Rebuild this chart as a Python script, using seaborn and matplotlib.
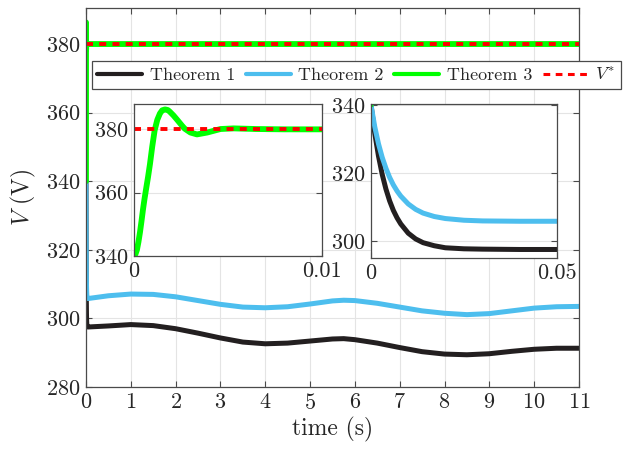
import numpy as np
import pandas as pd
import matplotlib
matplotlib.use("Agg")
import matplotlib.pyplot as plt
import seaborn as sns

# ---- data ----
# fast transient (seconds), used in the right inset and at the start of main plot
t_fast = [0, 0.001, 0.002, 0.003, 0.004, 0.005, 0.006, 0.007, 0.008, 0.010,
          0.012, 0.014, 0.017, 0.020, 0.025, 0.030, 0.040, 0.050]
v1_fast = [340, 331.7, 325.0, 319.6, 315.3, 311.8, 309.0, 306.8, 305.0, 302.3,
           300.6, 299.5, 298.6, 298.0, 297.7, 297.6, 297.5, 297.5]
v2_fast = [340, 333.6, 328.6, 324.6, 321.4, 318.7, 316.5, 314.7, 313.2, 310.9,
           309.3, 308.2, 307.2, 306.6, 306.1, 305.9, 305.8, 305.8]
# slow part (seconds)
t_slow = [0.5, 1, 1.5, 2, 2.5, 3, 3.5, 4, 4.5, 5, 5.5, 5.75, 6, 6.5, 7, 7.5,
          8, 8.5, 9, 9.5, 10, 10.5, 11]
v1_slow = [297.8, 298.2, 297.9, 297.0, 295.7, 294.3, 293.1, 292.6, 292.8, 293.4,
           294.0, 294.1, 293.8, 292.8, 291.5, 290.3, 289.6, 289.4, 289.7, 290.4,
           291.0, 291.3, 291.3]
v2_slow = [306.6, 307.1, 307.0, 306.3, 305.2, 304.1, 303.3, 303.1, 303.4, 304.2,
           305.1, 305.3, 305.2, 304.4, 303.3, 302.2, 301.5, 301.1, 301.4, 302.2,
           303.0, 303.4, 303.5]
# Theorem 3 transient (seconds)
t3_fast = [0, 0.00008, 0.00016, 0.00024, 0.00032, 0.0004, 0.00048, 0.00056,
           0.00064, 0.00075, 0.00085, 0.00097, 0.0011, 0.00124, 0.00138, 0.0015,
           0.00165, 0.0018, 0.0019, 0.0021, 0.0023, 0.00255, 0.0027, 0.0030,
           0.00335, 0.0039, 0.0046, 0.0053, 0.0065, 0.008, 0.010]
v3_fast = [340, 340.6, 342, 344.5, 347.5, 351, 354.7, 358, 361, 365, 369,
           374.5, 379.7, 383, 385, 386, 386.3, 386.1, 385.6, 384.4, 383,
           381.2, 380.2, 379, 378.4, 379, 380.1, 380.3, 380.1, 380, 380]
t3_slow = [0.05, 11]
v3_slow = [380, 380]
t_ref = [0, 11]
v_ref = [380, 380]

labels = ["Theorem 1", "Theorem 2", "Theorem 3", "$V^{*}$"]
xticks_main = list(range(0, 12))
yticks_main = [280, 300, 320, 340, 360, 380]

# ---- style ----
sns.set_theme(style="ticks")
plt.rcParams["font.family"] = ["cmr10", "DejaVu Sans"]
plt.rcParams["mathtext.fontset"] = "cm"
plt.rcParams["axes.unicode_minus"] = False
plt.rcParams["axes.formatter.use_mathtext"] = True

c1, c2, c3, cr = "#231f20", "#4dbeee", "#00ff00", "#ff0000"
lw = 3.6
dash = (1.8, 1.6)

df1 = pd.DataFrame({"t": t_fast + t_slow, "v": v1_fast + v1_slow})
df2 = pd.DataFrame({"t": t_fast + t_slow, "v": v2_fast + v2_slow})
df3 = pd.DataFrame({"t": t3_fast + t3_slow, "v": v3_fast + v3_slow})
dfr = pd.DataFrame({"t": t_ref, "v": v_ref})

fig = plt.figure(figsize=(6.24, 4.53), dpi=100)

def style_ax(ax, fs=16):
    ax.grid(True, color="#e4e4e4", lw=0.8)
    ax.set_axisbelow(True)
    for s in ax.spines.values():
        s.set_color("#4a4a4a")
        s.set_linewidth(0.9)
    ax.tick_params(direction="in", length=4, width=0.8, color="#4a4a4a",
                   top=True, right=True, labelsize=fs, pad=4)
    ax.set_facecolor("white")

ax = fig.add_axes([0.1378, 0.1457, 0.790, 0.8366])
sns.lineplot(data=df1, x="t", y="v", ax=ax, color=c1, lw=lw, label=labels[0])
sns.lineplot(data=df2, x="t", y="v", ax=ax, color=c2, lw=lw, label=labels[1])
sns.lineplot(data=df3, x="t", y="v", ax=ax, color=c3, lw=lw + 0.6, label=labels[2])
sns.lineplot(data=dfr, x="t", y="v", ax=ax, color=cr, lw=2.8, dashes=False,
             label=labels[3])
ax.lines[-1].set_dashes(dash)
ax.set_xlim(0, 11)
ax.set_ylim(280, 390.5)
ax.set_xticks(xticks_main)
ax.set_yticks(yticks_main)
style_ax(ax)
ax.set_xlabel("time (s)", fontsize=17, labelpad=3)
ax.set_ylabel("$V$ (V)", fontsize=17, labelpad=6)
leg = ax.legend(loc="lower left", bbox_to_anchor=(0.012, 0.787), ncol=4,
                fontsize=13, frameon=True, fancybox=False, framealpha=1,
                edgecolor="#4a4a4a", handlelength=2.5, handletextpad=0.4,
                columnspacing=0.6, borderpad=0.3, borderaxespad=0)
leg.get_frame().set_linewidth(0.9)
for h in leg.get_lines():
    h.set_linewidth(3)
leg.get_lines()[3].set_linewidth(2.2)
leg.get_lines()[3].set_dashes((2.2, 1.8))

# ---- inset 1: Theorem 3 ----
a1 = fig.add_axes([0.2147, 0.4349, 0.3013, 0.3355])
sns.lineplot(data=df3, x="t", y="v", ax=a1, color=c3, lw=lw + 0.6, legend=False)
sns.lineplot(data=dfr, x="t", y="v", ax=a1, color=cr, lw=2.8, legend=False)
a1.lines[-1].set_dashes(dash)
a1.set_xlim(0, 0.01)
a1.set_ylim(340, 388)
a1.set_xticks([0, 0.01])
a1.set_xticklabels(["0", "0.01"])
a1.set_yticks([340, 360, 380])
style_ax(a1)
a1.set_xlabel("")
a1.set_ylabel("")

# ---- inset 2: Theorems 1 & 2 ----
a2 = fig.add_axes([0.5946, 0.4305, 0.298, 0.340])
sns.lineplot(data=df1, x="t", y="v", ax=a2, color=c1, lw=lw, legend=False)
sns.lineplot(data=df2, x="t", y="v", ax=a2, color=c2, lw=lw, legend=False)
sns.lineplot(data=df3, x="t", y="v", ax=a2, color=c3, lw=lw, legend=False)
a2.set_xlim(0, 0.05)
a2.set_ylim(295, 340.3)
a2.set_xticks([0, 0.05])
a2.set_xticklabels(["0", "0.05"])
a2.set_yticks([300, 320, 340])
style_ax(a2)
a2.set_xlabel("")
a2.set_ylabel("")

fig.savefig("out.png", dpi=100)
